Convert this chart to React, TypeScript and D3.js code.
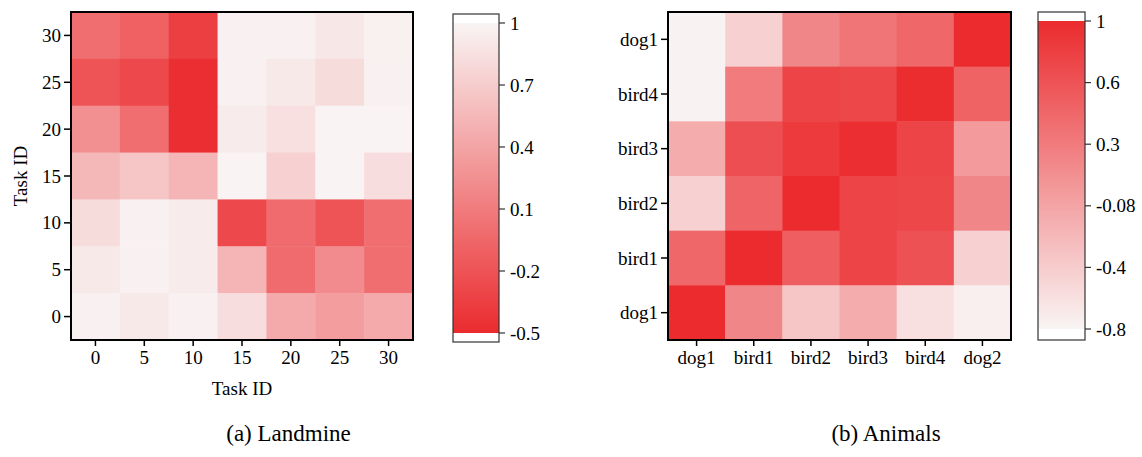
import * as d3 from "d3";
import React from "react";

// ---- Landmine (task similarity) ----
const taskIds = [0, 5, 10, 15, 20, 25, 30];
// rows listed top (30) to bottom (0), columns 0..30
const landRows = [30, 25, 20, 15, 10, 5, 0];
const landValues = [
  [0.0, -0.1, -0.35, 0.98, 0.98, 0.9, 0.97],
  [-0.2, -0.28, -0.48, 0.98, 0.92, 0.82, 0.98],
  [0.25, 0.0, -0.48, 0.93, 0.85, 0.99, 0.99],
  [0.55, 0.65, 0.52, 0.99, 0.74, 0.99, 0.83],
  [0.82, 0.98, 0.93, -0.28, -0.02, -0.2, 0.0],
  [0.92, 0.98, 0.93, 0.52, -0.02, 0.22, 0.0],
  [0.98, 0.92, 0.98, 0.83, 0.45, 0.35, 0.44],
];
const landTicks = [1, 0.7, 0.4, 0.1, -0.2, -0.5];

// ---- Animals ----
const animalCols = ["dog1", "bird1", "bird2", "bird3", "bird4", "dog2"];
const animalRows = ["dog1", "bird4", "bird3", "bird2", "bird1", "dog1"];
const animalValues = [
  [-0.78, -0.45, 0.2, 0.35, 0.45, 1.0],
  [-0.78, 0.3, 0.75, 0.72, 0.98, 0.48],
  [-0.15, 0.65, 0.85, 0.97, 0.75, 0.0],
  [-0.45, 0.47, 1.0, 0.75, 0.72, 0.2],
  [0.45, 1.0, 0.52, 0.75, 0.62, -0.45],
  [1.0, 0.2, -0.35, -0.15, -0.6, -0.75],
];
// colorbar stops are evenly spaced though the values are not
const animalTickVals = [1, 0.6, 0.3, -0.08, -0.4, -0.8];
const animalTickLabels = ["1", "0.6", "0.3", "-0.08", "-0.4", "-0.8"];

const W = 1142;
const H = 457;
const FONT = "Liberation Serif, DejaVu Serif, serif";
const FS = 19;

const ramp = d3.interpolateRgb("#f9f4f4", "#eb2b2e");

const App: React.FC = () => {
  // left panel
  const lx = d3.scaleBand<number>().domain(taskIds).range([71, 413]);
  const ly = d3.scaleBand<number>().domain(landRows).range([12, 340]);
  const lT = d3.scaleLinear().domain([-0.5, 1]).range([1, 0]);
  const lBar = d3.scaleLinear().domain([-0.5, 1]).range([333, 23]);

  // right panel
  const rx = d3.scaleBand<string>().domain(animalCols.map((_, i) => String(i))).range([668, 1011]);
  const ry = d3.scaleBand<string>().domain(animalRows.map((_, i) => String(i))).range([12, 340]);
  const rT = d3
    .scaleLinear()
    .domain(animalTickVals.slice().reverse())
    .range([0, 0.2, 0.4, 0.6, 0.8, 1])
    .clamp(true);
  const rBar = d3.scalePoint<string>().domain(animalTickLabels).range([21, 329]);

  const lStops = d3.range(0, 1.0001, 0.1);
  const rStops = d3.range(0, 1.0001, 0.05);

  return (
    <div style={{ position: "absolute", left: 0, top: 0, fontFamily: FONT }}>
      <svg width={W} height={H} style={{ display: "block", background: "#fff" }} fontFamily={FONT}>
        <defs>
          <linearGradient id="lg" x1="0" y1="1" x2="0" y2="0">
            {lStops.map((s) => (
              <stop key={s} offset={s} stopColor={ramp(1 - s)} />
            ))}
          </linearGradient>
          <linearGradient id="rg" x1="0" y1="0" x2="0" y2="1">
            {rStops.map((s) => (
              <stop key={s} offset={s} stopColor={ramp(1 - s)} />
            ))}
          </linearGradient>
        </defs>

        {/* Landmine cells */}
        {landValues.map((row, ri) =>
          row.map((v, ci) => (
            <rect
              key={`l${ri}-${ci}`}
              x={lx(taskIds[ci])}
              y={ly(landRows[ri])}
              width={lx.bandwidth() + 0.5}
              height={ly.bandwidth() + 0.5}
              fill={ramp(lT(v))}
            />
          ))
        )}
        <rect x={71} y={12} width={342} height={328} fill="none" stroke="#000" strokeWidth={2} />
        {taskIds.map((t) => (
          <g key={`lxt${t}`}>
            <line x1={lx(t)! + lx.bandwidth() / 2} x2={lx(t)! + lx.bandwidth() / 2} y1={340} y2={346} stroke="#000" strokeWidth={1.5} />
            <text x={lx(t)! + lx.bandwidth() / 2} y={364} fontSize={FS} textAnchor="middle">{t}</text>
          </g>
        ))}
        {landRows.map((t) => (
          <g key={`lyt${t}`}>
            <line x1={64} x2={71} y1={ly(t)! + ly.bandwidth() / 2} y2={ly(t)! + ly.bandwidth() / 2} stroke="#000" strokeWidth={1.5} />
            <text x={61} y={ly(t)! + ly.bandwidth() / 2} fontSize={FS} textAnchor="end" dominantBaseline="central">{t}</text>
          </g>
        ))}
        <text x={242} y={395} fontSize={FS} textAnchor="middle">Task ID</text>
        <text transform="translate(27,176) rotate(-90)" fontSize={FS} textAnchor="middle">Task ID</text>

        {/* Landmine colorbar */}
        <rect x={453} y={14} width={46} height={328} fill="#fff" />
        <rect x={453} y={lBar(1)} width={46} height={lBar(-0.5) - lBar(1)} fill="url(#lg)" />
        <rect x={453} y={14} width={46} height={328} fill="none" stroke="#333" strokeWidth={1.2} />
        {landTicks.map((t) => (
          <g key={`lct${t}`}>
            <line x1={499} x2={505} y1={lBar(t)} y2={lBar(t)} stroke="#333" strokeWidth={1.2} />
            <text x={510} y={lBar(t)} fontSize={FS} dominantBaseline="central">{t}</text>
          </g>
        ))}
        <text x={288.5} y={441} fontSize={23} textAnchor="middle">(a) Landmine</text>

        {/* Animals cells */}
        {animalValues.map((row, ri) =>
          row.map((v, ci) => (
            <rect
              key={`r${ri}-${ci}`}
              x={rx(String(ci))}
              y={ry(String(ri))}
              width={rx.bandwidth() + 0.5}
              height={ry.bandwidth() + 0.5}
              fill={ramp(rT(v))}
            />
          ))
        )}
        <rect x={668} y={12} width={343} height={328} fill="none" stroke="#000" strokeWidth={2} />
        {animalCols.map((c, i) => {
          const cx = rx(String(i))! + rx.bandwidth() / 2;
          return (
            <g key={`rxt${i}`}>
              <line x1={cx} x2={cx} y1={340} y2={346} stroke="#000" strokeWidth={1.5} />
              <text x={cx} y={364} fontSize={FS} textAnchor="middle">{c}</text>
            </g>
          );
        })}
        {animalRows.map((c, i) => {
          const cy = ry(String(i))! + ry.bandwidth() / 2;
          return (
            <g key={`ryt${i}`}>
              <line x1={661} x2={668} y1={cy} y2={cy} stroke="#000" strokeWidth={1.5} />
              <text x={658} y={cy} fontSize={FS} textAnchor="end" dominantBaseline="central">{c}</text>
            </g>
          );
        })}

        {/* Animals colorbar */}
        <rect x={1038} y={12} width={47} height={328} fill="#fff" />
        <rect x={1038} y={rBar("1")} width={47} height={rBar("-0.8")! - rBar("1")!} fill="url(#rg)" />
        <rect x={1038} y={12} width={47} height={328} fill="none" stroke="#333" strokeWidth={1.2} />
        {animalTickLabels.map((t, i) => (
          <g key={`rct${i}`}>
            <line x1={1085} x2={1091} y1={rBar(t)} y2={rBar(t)} stroke="#333" strokeWidth={1.2} />
            <text x={1096} y={rBar(t)} fontSize={FS} dominantBaseline="central">{t}</text>
          </g>
        ))}
        <text x={886} y={441} fontSize={23} textAnchor="middle">(b) Animals</text>
      </svg>
    </div>
  );
};

export default App;
